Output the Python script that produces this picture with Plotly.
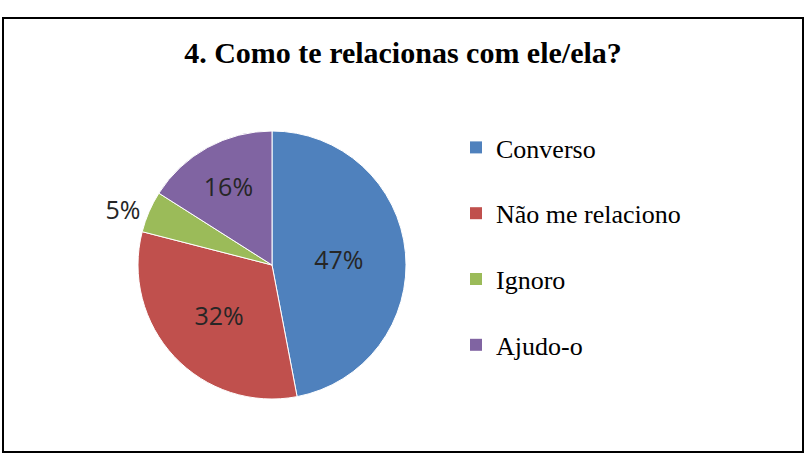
import plotly.graph_objects as go

categories = ["Converso", "Não me relaciono", "Ignoro", "Ajudo-o"]
values = [47, 32, 5, 16]
colors = ["#4F81BD", "#C0504D", "#9BBB59", "#8064A2"]
title_text = "4. Como te relacionas com ele/ela?"

W, H = 806, 465
cx, cy, r = 272, 265, 134

fig = go.Figure()
fig.add_trace(go.Pie(
    labels=categories, values=values, sort=False, direction="clockwise",
    rotation=0, marker=dict(colors=colors, line=dict(color="white", width=1)),
    texttemplate="%{value}%", textinfo="text",
    textposition=["inside", "inside", "outside", "inside"],
    insidetextorientation="horizontal",
    textfont=dict(family="Open Sans, sans-serif", size=25, color="#262626"),
    showlegend=False, hoverinfo="label+percent",
    domain=dict(x=[(cx - r) / W, (cx + r) / W], y=[(H - cy - r) / H, (H - cy + r) / H]),
))

for cat, col in zip(categories, colors):
    fig.add_trace(go.Scatter(
        x=[None], y=[None], mode="markers", name=cat, legendgroup=cat,
        marker=dict(symbol="square", size=11, color=col),
    ))

fig.update_layout(
    width=W, height=H, margin=dict(l=0, r=0, t=0, b=0),
    paper_bgcolor="white", plot_bgcolor="white",
    xaxis=dict(visible=False), yaxis=dict(visible=False),
    title=dict(text="<b>" + title_text + "</b>", x=0.5, xanchor="center",
               y=1 - 52 / H, yanchor="middle",
               font=dict(family="Liberation Serif, serif", size=30, color="black")),
    legend=dict(x=456 / W, y=1 - 124 / H, xanchor="left", yanchor="top",
                tracegroupgap=29, traceorder="grouped",
                font=dict(family="Liberation Serif, serif", size=26, color="black"),
                itemsizing="constant", bgcolor="rgba(0,0,0,0)"),
    shapes=[dict(type="rect", xref="paper", yref="paper",
                 x0=3 / W, x1=803 / W, y0=1 - 452 / H, y1=1 - 18 / H,
                 line=dict(color="black", width=2), fillcolor="rgba(0,0,0,0)")],
)

fig.write_html("out.html")
